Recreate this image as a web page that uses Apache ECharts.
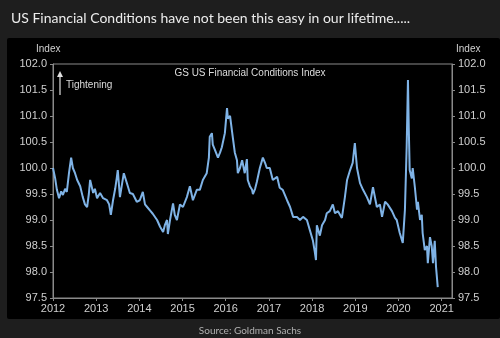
<!DOCTYPE html>
<html><head><meta charset="utf-8">
<script src="https://cdn.jsdelivr.net/npm/echarts@6/dist/echarts.min.js"></script>
<style>html,body{margin:0;padding:0;background:#1e1e1e;}#c{width:500px;height:338px;}</style>
</head><body><div id="c"></div>
<script>
// Decimal years (x) and index values
const years = [2012.00,2012.05,2012.09,2012.14,2012.19,2012.23,2012.28,2012.32,2012.37,2012.42,2012.46,2012.51,2012.56,2012.63,2012.69,2012.74,2012.79,2012.83,2012.86,2012.93,2012.97,
2013.02,2013.09,2013.16,2013.25,2013.30,2013.34,2013.39,2013.44,2013.48,2013.50,2013.55,2013.60,2013.64,2013.71,2013.78,2013.85,2013.94,
2014.01,2014.08,2014.13,2014.18,2014.25,2014.31,2014.41,2014.48,2014.55,2014.59,2014.64,2014.66,2014.71,2014.78,2014.82,2014.87,2014.94,
2015.01,2015.10,2015.17,2015.24,2015.33,2015.40,2015.47,2015.56,2015.61,2015.63,2015.68,2015.70,2015.75,2015.82,2015.87,2015.91,2015.98,
2016.03,2016.05,2016.10,2016.17,2016.21,2016.26,2016.28,2016.33,2016.38,2016.44,2016.49,2016.51,2016.56,2016.61,2016.63,2016.68,2016.72,2016.79,2016.86,2016.91,2016.95,
2017.02,2017.09,2017.19,2017.25,2017.32,2017.42,2017.49,2017.56,2017.65,2017.72,2017.79,2017.88,2017.95,
2018.02,2018.06,2018.09,2018.11,2018.18,2018.23,2018.30,2018.34,2018.41,2018.48,2018.53,2018.60,2018.69,2018.76,2018.81,2018.88,2018.94,2018.99,
2019.04,2019.11,2019.18,2019.27,2019.34,2019.41,2019.50,2019.57,2019.62,2019.69,2019.75,2019.85,2019.92,2019.96,
2020.03,2020.10,2020.15,2020.19,2020.22,2020.24,2020.26,2020.31,2020.33,2020.38,2020.43,2020.45,2020.50,2020.54,2020.56,2020.61,2020.66,2020.68,2020.73,2020.77,2020.80,2020.84,2020.87,2020.91];
const values = [100.0,99.8,99.58,99.42,99.55,99.48,99.6,99.54,99.9,100.2,100.0,99.9,99.77,99.65,99.44,99.3,99.25,99.5,99.77,99.52,99.6,
99.42,99.52,99.42,99.38,99.3,99.1,99.38,99.6,99.83,99.96,99.44,99.7,99.9,99.71,99.52,99.5,99.35,
99.38,99.54,99.3,99.25,99.18,99.12,99.0,98.87,98.77,98.9,99.0,98.73,99.0,99.32,99.1,99.0,99.3,
99.25,99.44,99.65,99.38,99.58,99.58,99.77,99.9,100.2,100.6,100.67,100.45,100.35,100.2,100.3,100.4,100.67,
101.15,100.95,101.0,100.55,100.3,100.15,99.9,100.0,100.15,99.9,100.17,99.77,99.65,99.58,99.5,99.6,99.73,100.0,100.2,100.1,100.0,
100.0,99.77,99.83,99.62,99.58,99.38,99.25,99.06,99.06,99.0,99.06,99.0,98.8,
98.6,98.4,98.23,98.9,98.7,98.9,99.0,99.13,99.17,99.3,99.13,99.17,99.04,99.44,99.77,99.96,100.1,100.48,
100.0,99.71,99.58,99.44,99.3,99.63,99.25,99.3,99.06,99.35,99.3,99.17,99.04,99.0,
98.75,98.56,99.2,100.4,101.69,100.73,99.96,99.8,100.0,99.63,99.2,99.35,99.0,99.1,98.75,98.42,98.5,98.17,98.67,98.5,98.17,98.6,98.1,97.71];
const yearTicks = [2012,2013,2014,2015,2016,2017,2018,2019,2020,2021];

const chart = echarts.init(document.getElementById('c'), null, {renderer:'canvas'});
const axisCol = '#8a8a8a', labCol = '#d0d0d0';
const yAx = (pos) => ({
  type:'value', position:pos, min:97.5, max:102, interval:0.5,
  axisLine:{show:true, lineStyle:{color:axisCol}},
  axisTick:{show:true, length:3, lineStyle:{color:axisCol}},
  splitLine:{show:false},
  axisLabel:{color:labCol, fontSize:11, fontFamily:'Liberation Sans', margin:6, formatter:v=>v.toFixed(1)}
});
chart.setOption({
  backgroundColor:'#1e1e1e',
  animation:false,
  title:[
    {text:'US Financial Conditions have not been this easy in our lifetime.....', left:6, top:6,
     textStyle:{color:'#ececec', fontSize:14, fontWeight:'normal', fontFamily:'Lato'}},
    {text:'Source: Goldman Sachs', left:'center', top:321,
     textStyle:{color:'#b0b0b0', fontSize:10, fontWeight:'normal', fontFamily:'Lato'}}
  ],
  graphic:[
    {type:'rect', z:-10, shape:{x:7,y:38,width:493,height:281,r:2}, style:{fill:'#000'}},
    {type:'text', left:36, top:44, style:{text:'Index', fill:labCol, font:'10px "Liberation Sans"'}},
    {type:'text', left:456, top:44, style:{text:'Index', fill:labCol, font:'10px "Liberation Sans"'}},
    {type:'text', left:'center', top:68, style:{text:'GS US Financial Conditions Index', fill:'#dcdcdc', font:'10px "Liberation Sans"'}},
    {type:'line', shape:{x1:60,y1:76,x2:60,y2:95}, style:{stroke:'#e0e0e0', lineWidth:1.2}},
    {type:'polygon', shape:{points:[[57,77],[63,77],[60,71]]}, style:{fill:'#e0e0e0'}},
    {type:'text', left:66, top:80, style:{text:'Tightening', fill:'#dcdcdc', font:'10px "Liberation Sans"'}}
  ],
  grid:{left:53, right:48, top:64, bottom:40, show:true, borderColor:axisCol, borderWidth:1, backgroundColor:'transparent'},
  xAxis:{type:'value', min:2012, max:2021.24, interval:1,
    axisLine:{show:true, onZero:false, lineStyle:{color:axisCol}},
    axisTick:{show:true, length:3, lineStyle:{color:axisCol}},
    splitLine:{show:false},
    axisLabel:{color:labCol, fontSize:11, fontFamily:'Liberation Sans', margin:5, showMaxLabel:false,
      formatter:v=>yearTicks.includes(v)?String(v):''}},
  yAxis:[yAx('left'), yAx('right')],
  series:[{type:'line', data:years.map((y,i)=>[y,values[i]]), showSymbol:false,
    lineStyle:{color:'#7fb3e6', width:2}, itemStyle:{color:'#7fb3e6'}}]
});
</script></body></html>
